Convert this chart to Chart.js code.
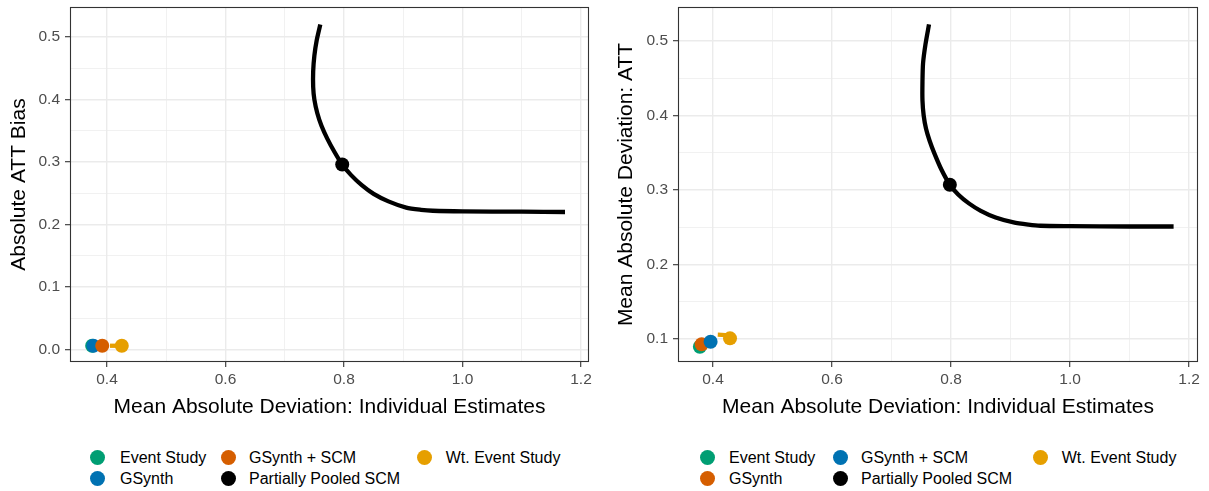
<!DOCTYPE html>
<html><head><meta charset="utf-8">
<script src="https://cdn.jsdelivr.net/npm/chart.js@4"></script>
<style>
html,body{margin:0;padding:0;background:#fff;width:1209px;height:491px;overflow:hidden;position:relative;font-family:"Liberation Sans",Arial,Helvetica,sans-serif;}
#c1{position:absolute;left:0;top:0;}
#c2{position:absolute;left:604px;top:0;}
.lg{position:absolute;font-size:16px;line-height:20px;color:#000;white-space:nowrap;}
.key{position:absolute;width:15px;height:15px;border-radius:50%;}
</style></head>
<body>
<canvas id="c1" width="604" height="420"></canvas>
<canvas id="c2" width="605" height="420"></canvas>
<div id="legend"></div>
<script>
const FONT = '"Liberation Sans", Arial, Helvetica, sans-serif';

// ---- categories & colours ----
const methods = ['Event Study','GSynth','GSynth + SCM','Partially Pooled SCM','Wt. Event Study'];
const colorsLeft  = ['#009E73','#0072B2','#D55E00','#000000','#E69F00'];
const colorsRight = ['#009E73','#D55E00','#0072B2','#000000','#E69F00'];

// ---- left panel: x = MAD individual estimates, y = absolute ATT bias ----
const leftPointX = [0.375, 0.377, 0.392, 0.797, 0.425];
const leftPointY = [0.006, 0.006, 0.006, 0.296, 0.006];
const leftPoolCurveX = [0.760,0.754,0.750,0.748,0.748,0.750,0.755,0.762,0.772,0.784,0.797,0.812,0.830,0.850,0.875,0.905,0.930,0.950,1.000,1.100,1.173];
const leftPoolCurveY = [0.520,0.495,0.470,0.445,0.420,0.400,0.378,0.358,0.337,0.316,0.296,0.279,0.263,0.249,0.237,0.227,0.2235,0.222,0.221,0.2205,0.220];
const leftWtPathX = [0.405, 0.425];
const leftWtPathY = [0.006, 0.006];

// ---- right panel: x = MAD individual estimates, y = MAD ATT ----
const rightPointX = [0.378, 0.381, 0.396, 0.798, 0.4286];
const rightPointY = [0.0897, 0.093, 0.0964, 0.307, 0.101];
const rightPoolCurveX = [0.763,0.757,0.753,0.752,0.752,0.754,0.758,0.764,0.772,0.784,0.798,0.812,0.830,0.850,0.875,0.905,0.930,0.950,1.000,1.100,1.174];
const rightPoolCurveY = [0.522,0.495,0.470,0.445,0.420,0.400,0.382,0.366,0.349,0.327,0.307,0.294,0.282,0.272,0.263,0.2564,0.2535,0.252,0.2515,0.251,0.251];
const rightWtPathX = [0.408, 0.427];
const rightWtPathY = [0.106, 0.105];

// ---- ticks & ranges ----
const xMajorTicks = [0.4, 0.6, 0.8, 1.0, 1.2];
const xMinorTicks = [0.5, 0.7, 0.9, 1.1];
const leftYMajorTicks = [0, 0.1, 0.2, 0.3, 0.4, 0.5];
const leftYMinorTicks = [0.05, 0.15, 0.25, 0.35, 0.45];
const rightYMajorTicks = [0.1, 0.2, 0.3, 0.4, 0.5];
const rightYMinorTicks = [0.15, 0.25, 0.35, 0.45];
const leftXRange = [0.3376, 1.2135];
const leftYRange = [-0.020, 0.548];
const rightXRange = [0.3412, 1.2150];
const rightYRange = [0.0693, 0.5453];

const xTitle = 'Mean Absolute Deviation: Individual Estimates';
const leftYTitle = 'Absolute ATT Bias';
const rightYTitle = 'Mean Absolute Deviation: ATT';

function zip(xs, ys){ return xs.map((x,i)=>({x:x, y:ys[i]})); }
function isIn(arr, v){ return arr.some(a=>Math.abs(a-v)<1e-9); }

function axisOpts(major, minor, range, titleText, isY, fitSize, titlePad){
  const all = major.concat(minor).sort((a,b)=>a-b);
  return {
    type:'linear', min:range[0], max:range[1],
    afterBuildTicks: s => { s.ticks = all.map(v=>({value:v})); },
    afterFit: s => {
      if (isY) { s.width = fitSize; s.paddingTop = 0; s.paddingBottom = 0; }
      else { s.height = fitSize; s.paddingLeft = 0; s.paddingRight = 0; }
    },
    ticks: { color:'#4d4d4d', font:{family:FONT, size:15.5}, padding: isY?5:3, autoSkip:false, maxRotation:0, minRotation:0,
      callback: (v) => isIn(major, v) ? Number(v).toFixed(1) : '' },
    grid: {
      color:'#ebebeb',
      lineWidth: ctx => (ctx.tick && isIn(major, ctx.tick.value)) ? 1.4 : 0.7,
      tickLength:5,
      tickColor: ctx => (ctx.tick && isIn(major, ctx.tick.value)) ? '#333333' : 'rgba(0,0,0,0)',
      tickWidth:1.1,
      drawTicks:true
    },
    border: {display:false},
    title: {display:true, text:titleText, color:'#000', font:{family:FONT, size:21, weight:'normal'}, padding: titlePad}
  };
}

const panelBorder = {
  id:'panelBorder',
  afterDraw(chart){
    const {ctx, chartArea:a} = chart;
    ctx.save();
    ctx.strokeStyle = '#333333';
    ctx.lineWidth = 1.1;
    ctx.strokeRect(Math.round(a.left)+0.5, Math.round(a.top)+0.5, Math.round(a.right-a.left)-1, Math.round(a.bottom-a.top)-1);
    ctx.restore();
  }
};

function makePanel(canvasId, colors, px, py, curveX, curveY, wtX, wtY, xRange, yRange, yMajor, yMinor, yTitle, yAxisWidth, yTitlePad, rightPad){
  const datasets = [];
  // points (top-most first: Chart.js draws index 0 last)
  for (let i = methods.length - 1; i >= 0; i--) {
    datasets.push({
      label: methods[i], type:'scatter',
      data: [{x:px[i], y:py[i]}],
      backgroundColor: colors[i], borderWidth:0,
      pointRadius:7, pointHoverRadius:7, showLine:false
    });
  }
  datasets.push({
    label: methods[4] + ' path', type:'scatter', data: zip(wtX, wtY),
    showLine:true, borderColor: colors[4], borderWidth:4.3, pointRadius:0, borderCapStyle:'butt', fill:false
  });
  datasets.push({
    label: methods[3] + ' path', type:'scatter', data: zip(curveX, curveY),
    showLine:true, borderColor: colors[3], borderWidth:4.3, pointRadius:0, tension:0.25, borderCapStyle:'butt', fill:false
  });
  return new Chart(document.getElementById(canvasId), {
    type:'scatter',
    data:{datasets},
    options:{
      responsive:false, animation:false, devicePixelRatio:1,
      layout:{padding:{left:0, top:5, right:rightPad, bottom:0}},
      plugins:{legend:{display:false}, tooltip:{enabled:false}},
      scales:{
        x: axisOpts(xMajorTicks, xMinorTicks, xRange, xTitle, false, 58, {top:0, bottom:0}),
        y: axisOpts(yMajor, yMinor, yRange, yTitle, true, yAxisWidth, {top:yTitlePad, bottom:0})
      }
    },
    plugins:[panelBorder]
  });
}

makePanel('c1', colorsLeft, leftPointX, leftPointY, leftPoolCurveX, leftPoolCurveY, leftWtPathX, leftWtPathY,
  leftXRange, leftYRange, leftYMajorTicks, leftYMinorTicks, leftYTitle, 70, 7, 15);
makePanel('c2', colorsRight, rightPointX, rightPointY, rightPoolCurveX, rightPoolCurveY, rightWtPathX, rightWtPathY,
  rightXRange, rightYRange, rightYMajorTicks, rightYMinorTicks, rightYTitle, 74, 9.4, 11);

// ---- HTML legends (column-major, 2 rows) ----
function makeLegend(colors, keyXs, textXs){
  const rowY = [457.7, 478.7];
  const host = document.getElementById('legend');
  methods.forEach((m, i) => {
    const col = Math.floor(i / 2), row = i % 2;
    const k = document.createElement('div');
    k.className = 'key';
    k.style.background = colors[i];
    k.style.left = (keyXs[col] - 7.5) + 'px';
    k.style.top = (rowY[row] - 7.5) + 'px';
    host.appendChild(k);
    const t = document.createElement('div');
    t.className = 'lg';
    t.textContent = m;
    t.style.left = textXs[col] + 'px';
    t.style.top = (rowY[row] - 10) + 'px';
    host.appendChild(t);
  });
}
makeLegend(colorsLeft, [97.7, 228.3, 424], [120, 249, 445.7]);
makeLegend(colorsRight, [707.7, 840, 1040], [729, 861, 1061.7]);
</script>
</body></html>
